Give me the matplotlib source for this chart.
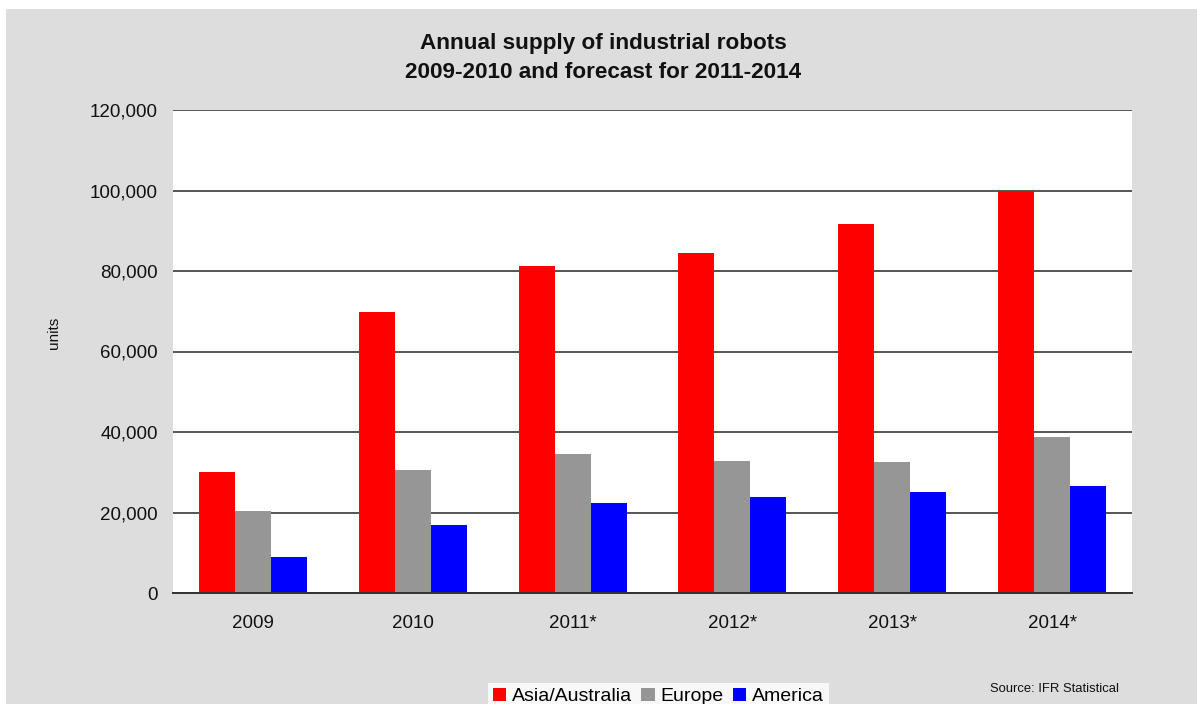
import numpy as np
import matplotlib
matplotlib.use("Agg")
import matplotlib.pyplot as plt
from matplotlib.patches import Rectangle
from matplotlib.ticker import FuncFormatter

plt.rcParams['font.family'] = ['Liberation Sans', 'DejaVu Sans']

years = ["2009", "2010", "2011*", "2012*", "2013*", "2014*"]
asia_australia = [30000, 69800, 81200, 84500, 91700, 100000]
europe = [20400, 30600, 34500, 32800, 32500, 38800]
america = [9000, 16900, 22400, 23900, 25100, 26600]

series_names = ["Asia/Australia", "Europe", "America"]
series_colors = ["#ff0000", "#969696", "#0000ff"]

W, H = 1197, 704
fig = plt.figure(figsize=(W / 100, H / 100), dpi=100, facecolor="white")

# grey chart panel
fig.patches.append(Rectangle((6 / W, 0), 1 - 6 / W, 1 - 9 / H,
                             transform=fig.transFigure, facecolor="#dddddd",
                             edgecolor="none", zorder=-5))

left, right = 173 / W, 1132 / W
bottom, top = 1 - 593 / H, 1 - 110 / H
ax = fig.add_axes([left, bottom, right - left, top - bottom])
ax.set_zorder(2)
ax.set_facecolor("white")

x = np.arange(len(years))
bw = 0.225
for i, (vals, name, col) in enumerate(zip([asia_australia, europe, america],
                                          series_names, series_colors)):
    ax.bar(x + (i - 1) * bw, vals, width=bw, color=col, label=name, zorder=3)

ax.set_xlim(-0.5, len(years) - 0.5)
ax.set_ylim(0, 120000)
ax.set_yticks(np.arange(0, 120001, 20000))
ax.yaxis.set_major_formatter(FuncFormatter(lambda v, p: f"{int(v):,}"))
ax.set_xticks(x)
ax.set_xticklabels(years)

ax.grid(axis="y", color="#555555", linewidth=1.4, zorder=1)
ax.set_axisbelow(True)
for s in ["left", "right", "top"]:
    ax.spines[s].set_visible(False)
ax.spines["bottom"].set_color("#333333")
ax.spines["bottom"].set_linewidth(1.4)
ax.spines["bottom"].set_zorder(4)
ax.tick_params(axis="both", length=0, labelsize=13.5, colors="#111111")
ax.tick_params(axis="y", pad=11)
ax.tick_params(axis="x", pad=16)

fig.text(54 / W, 1 - 333 / H, "units", rotation=90, ha="center", va="center",
         fontsize=11, color="#111111")

fig.text(603.5 / W, 1 - 43 / H, "Annual supply of industrial robots",
         ha="center", va="center", fontsize=16.2, fontweight="bold", color="#111111")
fig.text(603.5 / W, 1 - 72 / H, "2009-2010 and forecast for 2011-2014",
         ha="center", va="center", fontsize=16.2, fontweight="bold", color="#111111")

leg = fig.legend(loc="upper left", bbox_to_anchor=(488 / W, 1 - 683 / H),
                 ncol=3, frameon=True, fancybox=False, fontsize=14,
                 handlelength=0.7, handleheight=0.7, handletextpad=0.3,
                 columnspacing=0.45, borderpad=0.25, borderaxespad=0)
leg.get_frame().set_facecolor("white")
leg.get_frame().set_edgecolor("none")
leg.set_zorder(3)

fig.text(1054 / W, 1 - 689 / H, "Source: IFR Statistical", ha="center",
         va="center", fontsize=9.4, color="#111111")

fig.savefig("out.png", dpi=100, facecolor=fig.get_facecolor())
